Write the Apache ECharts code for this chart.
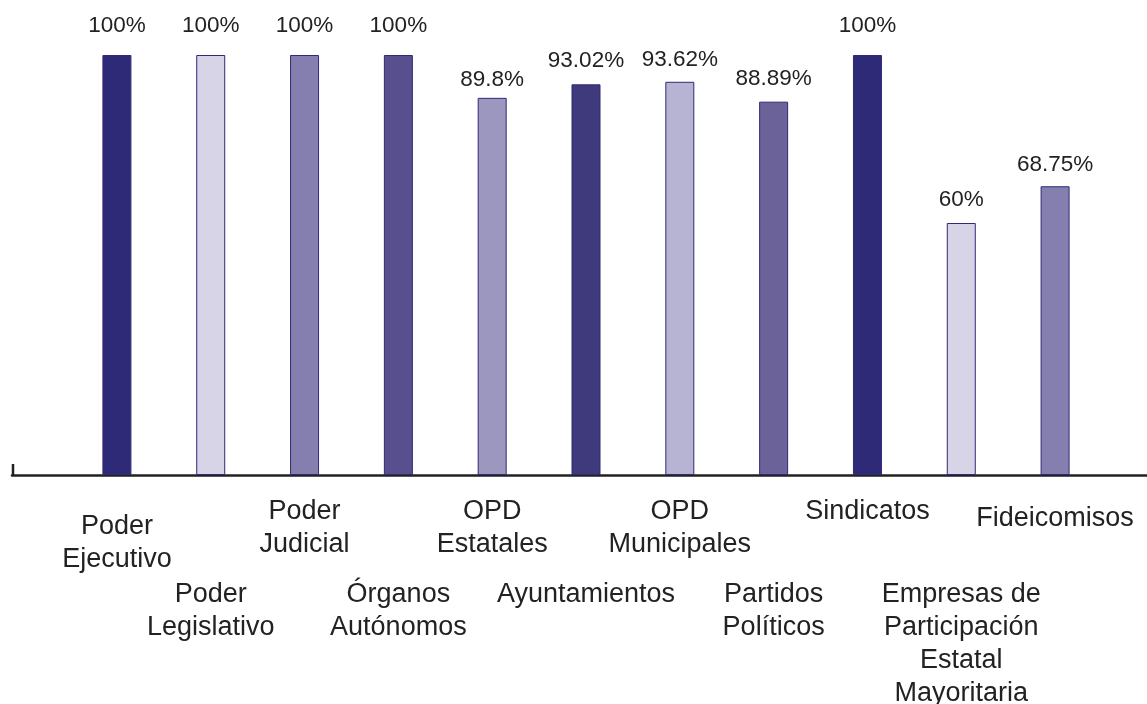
<!DOCTYPE html>
<html>
<head>
<meta charset="utf-8">
<script src="https://cdn.jsdelivr.net/npm/echarts@6/dist/echarts.min.js"></script>
<style>
	html, body { margin: 0; padding: 0; background: #fff; }
	#chart { width: 1147px; height: 704px; }
</style>
</head>
<body>
<div id="chart"></div>
<script>
// categorias y porcentajes
const categorias = [
	'Poder\nEjecutivo', 'Poder\nLegislativo', 'Poder\nJudicial', 'Órganos\nAutónomos',
	'OPD\nEstatales', 'Ayuntamientos', 'OPD\nMunicipales', 'Partidos\nPolíticos',
	'Sindicatos', 'Empresas de\nParticipación\nEstatal\nMayoritaria', 'Fideicomisos'
];
const porcentajes = [100, 100, 100, 100, 89.8, 93.02, 93.62, 88.89, 100, 60, 68.75];
const colores = [
	'#2e2a78', '#d6d4e6', '#857fb0', '#58508e', '#9c97bf', '#3f3a7c',
	'#b7b3d2', '#6a6299', '#2e2a78', '#d6d4e6', '#857fb0'
];
// desplazamiento vertical de cada etiqueta del eje
const desplazamientos = [15, 83, 0, 83, 0, 83, 0, 83, 0, 83, 7];
// separacion de la etiqueta de valor sobre cada barra
const distancias = [18, 18, 18, 18, 7, 12, 10, 11, 18, 12, 10];

const fuente = "'Liberation Sans', Arial, sans-serif";

const chart = echarts.init(document.getElementById('chart'));

const option = {
	animation: false,
	grid: [
		{left: 70, right: 45, top: 55, bottom: 229, outerBoundsMode: 'none'},
		{left: 12, right: 0, top: 55, bottom: 229, outerBoundsMode: 'none'}
	],
	xAxis: [
		{
			type: 'category',
			gridIndex: 0,
			data: categorias.map((c, i) => ({
				value: c,
				textStyle: {padding: [desplazamientos[i], 0, 0, 0]}
			})),
			axisLine: {show: false},
			axisTick: {show: false},
			axisLabel: {
				interval: 0,
				margin: 20,
				fontSize: 27,
				lineHeight: 33,
				color: '#222',
				fontFamily: fuente
			}
		},
		{
			type: 'value',
			gridIndex: 1,
			min: 0,
			max: 1,
			axisLine: {show: true, lineStyle: {color: '#222', width: 2.5}},
			axisTick: {show: false},
			axisLabel: {show: false},
			splitLine: {show: false}
		}
	],
	yAxis: [
		{type: 'value', gridIndex: 0, min: 0, max: 100, show: false},
		{type: 'value', gridIndex: 1, min: 0, max: 100, show: false}
	],
	graphic: [{
		type: 'line',
		shape: {x1: 13, y1: 464, x2: 13, y2: 475},
		style: {stroke: '#222', lineWidth: 2.5}
	}],
	series: [{
		type: 'bar',
		xAxisIndex: 0,
		yAxisIndex: 0,
		barWidth: 29,
		data: porcentajes.map((v, i) => ({
			value: v,
			itemStyle: {color: colores[i], borderColor: '#2e2a78', borderWidth: 1},
			label: {distance: distancias[i]}
		})),
		label: {
			show: true,
			position: 'top',
			formatter: '{c}%',
			fontSize: 22.5,
			color: '#222',
			fontFamily: fuente
		}
	}]
};

chart.setOption(option);
</script>
</body>
</html>
